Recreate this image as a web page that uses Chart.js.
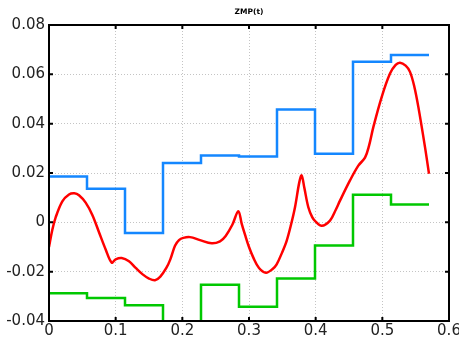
<!DOCTYPE html>
<html>
<head>
<meta charset="utf-8">
<script src="https://cdn.jsdelivr.net/npm/chart.js@4/dist/chart.umd.min.js"></script>
<style>
  html, body { margin: 0; padding: 0; background: #fff; }
  #wrap { width: 459px; height: 340px; }
</style>
</head>
<body>
<div id="wrap"><canvas id="zmpChart" width="459" height="340"></canvas></div>
<script>
// Data
const chartTitle = 'ZMP(t)';

// Step times shared by the two step series
const stepTimes = [0, 0.057, 0.114, 0.171, 0.228, 0.285, 0.342, 0.399, 0.456, 0.513, 0.570];
const upperBound = [0.0186, 0.0136, -0.0043, 0.0241, 0.0271, 0.0267, 0.0457, 0.0278, 0.0651, 0.0678, 0.0678];
const lowerBound = [-0.0288, -0.0307, -0.0336, -0.05, -0.0253, -0.0342, -0.0228, -0.0094, 0.0112, 0.0072, 0.0072];

// ZMP curve
const zmpTimes = [0, 0.005, 0.01, 0.02, 0.03, 0.038, 0.045, 0.055, 0.065, 0.075, 0.085, 0.094,
  0.1, 0.109, 0.12, 0.13, 0.14, 0.15, 0.159, 0.167, 0.176, 0.182, 0.189, 0.195, 0.2015, 0.2115,
  0.2265, 0.244, 0.2565, 0.265, 0.275, 0.284, 0.289, 0.294, 0.3, 0.3065, 0.315, 0.3255, 0.335,
  0.3415, 0.35, 0.3565, 0.363, 0.369, 0.3755, 0.379, 0.383, 0.389, 0.395, 0.40, 0.409, 0.4215,
  0.43, 0.4365, 0.4515, 0.464, 0.474, 0.48, 0.4865, 0.499, 0.5115, 0.52, 0.5265, 0.535, 0.5415,
  0.548, 0.554, 0.564, 0.570];
const zmpValues = [-0.010, -0.003, 0.002, 0.0085, 0.0113, 0.0118, 0.011, 0.008, 0.003, -0.004, -0.011, -0.0163,
  -0.0150, -0.0145, -0.0158, -0.0185, -0.021, -0.0228, -0.0235, -0.022, -0.0185, -0.0150, -0.0095, -0.0072, -0.0063, -0.0060,
  -0.0072, -0.0085, -0.0077, -0.0055, -0.001, 0.0045, -0.0005, -0.0050, -0.010, -0.0143, -0.0185, -0.0204, -0.019,
  -0.0170, -0.012, -0.0075, -0.001, 0.0061, 0.0163, 0.0190, 0.0140, 0.0061, 0.0020, 0.0003, -0.0014, 0.0007,
  0.005, 0.0088, 0.017, 0.023, 0.0262, 0.031, 0.0386, 0.0508, 0.0603, 0.0638, 0.0647, 0.0635, 0.061,
  0.055, 0.0468, 0.0305, 0.0197];

// Tick labels
const xTickLabels = ['0', '0.1', '0.2', '0.3', '0.4', '0.5', '0.6'];
const yTickLabels = ['-0.04', '-0.02', '0', '0.02', '0.04', '0.06', '0.08'];

// Turn two arrays into {x, y} points
function toPoints(xs, ys) {
  return xs.map((x, i) => ({ x: x, y: ys[i] }));
}

// Box frame, inward tick marks and the little title
const framePlugin = {
  id: 'frame',
  afterDraw(chart) {
    const ctx = chart.ctx;
    const area = chart.chartArea;
    const xScale = chart.scales.x;
    const yScale = chart.scales.y;
    ctx.save();
    ctx.strokeStyle = '#000';
    ctx.lineWidth = 2;
    ctx.strokeRect(area.left, area.top, area.right - area.left, area.bottom - area.top);

    const len = 4;
    xScale.ticks.forEach(t => {
      const px = xScale.getPixelForValue(t.value);
      ctx.beginPath();
      ctx.moveTo(px, area.bottom); ctx.lineTo(px, area.bottom - len);
      ctx.moveTo(px, area.top); ctx.lineTo(px, area.top + len);
      ctx.stroke();
    });
    yScale.ticks.forEach(t => {
      const py = yScale.getPixelForValue(t.value);
      ctx.beginPath();
      ctx.moveTo(area.left, py); ctx.lineTo(area.left + len, py);
      ctx.moveTo(area.right, py); ctx.lineTo(area.right - len, py);
      ctx.stroke();
    });

    // title, centred on the plot area
    ctx.fillStyle = '#000';
    ctx.font = 'bold 7.5px "DejaVu Sans"';
    ctx.textAlign = 'center';
    ctx.textBaseline = 'middle';
    ctx.fillText(chartTitle, (area.left + area.right) / 2, 12);
    ctx.restore();
  }
};

const chart = new Chart(document.getElementById('zmpChart'), {
  type: 'line',
  data: {
    datasets: [
      {
        label: 'upper',
        data: toPoints(stepTimes, upperBound),
        stepped: 'before',
        borderColor: 'rgb(20, 135, 255)',
        borderWidth: 2.5,
        pointRadius: 0,
        fill: false
      },
      {
        label: 'lower',
        data: toPoints(stepTimes, lowerBound),
        stepped: 'before',
        borderColor: 'rgb(0, 200, 0)',
        borderWidth: 2.5,
        pointRadius: 0,
        fill: false
      },
      {
        label: 'zmp',
        data: toPoints(zmpTimes, zmpValues),
        borderColor: 'rgb(255, 0, 0)',
        borderWidth: 2.5,
        pointRadius: 0,
        tension: 0.35,
        fill: false
      }
    ]
  },
  options: {
    responsive: false,
    animation: false,
    layout: { padding: { top: 25, right: 10, left: 0, bottom: 0 } },
    plugins: {
      legend: { display: false },
      tooltip: { enabled: false },
      title: { display: false }
    },
    scales: {
      x: {
        type: 'linear',
        min: 0,
        max: 0.6,
        border: { display: false, dash: [1, 2] }, // dotted grid lines
        grid: { color: '#c4c4c4', lineWidth: 1, drawTicks: false },
        ticks: {
          stepSize: 0.1,
          autoSkip: false,
          maxRotation: 0,
          padding: 1,
          color: '#222',
          font: { family: 'DejaVu Sans', size: 15 },
          callback: (v, i) => xTickLabels[i]
        },
        afterFit(scale) {
          scale.height = 19;
          scale.paddingLeft = 0;
          scale.paddingRight = 0;
        }
      },
      y: {
        type: 'linear',
        min: -0.04,
        max: 0.08,
        border: { display: false, dash: [1, 2] },
        grid: { color: '#c4c4c4', lineWidth: 1, drawTicks: false },
        ticks: {
          stepSize: 0.02,
          autoSkip: false,
          padding: 4,
          color: '#222',
          font: { family: 'DejaVu Sans', size: 15 },
          callback: (v, i) => yTickLabels[i]
        },
        afterFit(scale) {
          scale.width = 49;
          scale.paddingTop = 0;
          scale.paddingBottom = 0;
        }
      }
    }
  },
  plugins: [framePlugin]
});
</script>
</body>
</html>
